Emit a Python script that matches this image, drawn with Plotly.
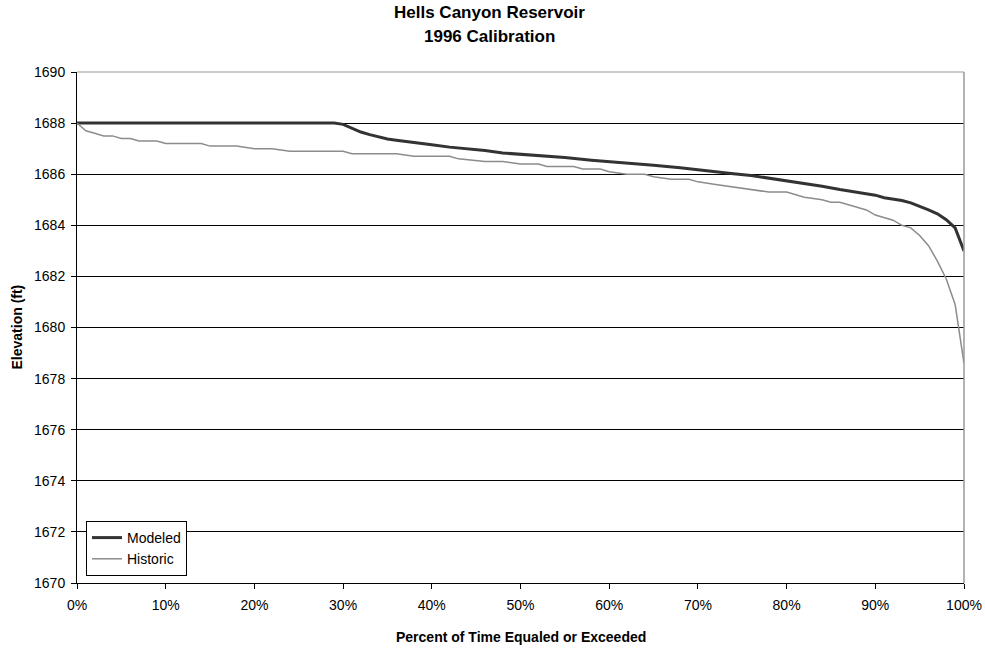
import plotly.graph_objects as go

hist_pct = [0, 1, 2, 3, 4, 5, 6, 7, 8, 9, 10, 12, 14, 15, 18, 20, 22, 24, 28, 30, 31, 36, 38, 42, 43,
            46, 48, 50, 52, 53, 56, 57, 59, 60, 62, 64, 65, 67, 69, 70, 72, 74, 76, 78, 80, 82, 84,
            85, 86, 87, 88, 89, 90, 92, 93, 94, 95, 96, 97, 98, 99, 100]
hist_elev = [1688.0, 1687.7, 1687.6, 1687.5, 1687.5, 1687.4, 1687.4, 1687.3, 1687.3, 1687.3, 1687.2,
             1687.2, 1687.2, 1687.1, 1687.1, 1687.0, 1687.0, 1686.9, 1686.9, 1686.9, 1686.8, 1686.8,
             1686.7, 1686.7, 1686.6, 1686.5, 1686.5, 1686.4, 1686.4, 1686.3, 1686.3, 1686.2, 1686.2,
             1686.1, 1686.0, 1686.0, 1685.9, 1685.8, 1685.8, 1685.7, 1685.6, 1685.5, 1685.4, 1685.3,
             1685.3, 1685.1, 1685.0, 1684.9, 1684.9, 1684.8, 1684.7, 1684.6, 1684.4, 1684.2, 1684.0,
             1683.9, 1683.6, 1683.2, 1682.6, 1681.9, 1680.9, 1678.6]

mod_pct = [0, 5, 10, 15, 20, 25, 29, 30, 31, 32, 33, 34, 35, 36, 38, 40, 42, 44, 46, 48, 50, 52, 55,
           58, 60, 62, 65, 68, 70, 72, 74, 76, 78, 80, 82, 84, 86, 88, 90, 91, 92, 93, 94, 95, 96,
           97, 98, 99, 100]
mod_elev = [1688.0, 1688.0, 1688.0, 1688.0, 1688.0, 1688.0, 1688.0, 1687.95, 1687.8, 1687.65,
            1687.55, 1687.45, 1687.38, 1687.33, 1687.25, 1687.15, 1687.06, 1687.0, 1686.93, 1686.83,
            1686.78, 1686.72, 1686.65, 1686.55, 1686.5, 1686.43, 1686.35, 1686.25, 1686.17, 1686.08,
            1686.02, 1685.95, 1685.85, 1685.75, 1685.65, 1685.53, 1685.4, 1685.28, 1685.18, 1685.08,
            1685.02, 1684.97, 1684.88, 1684.75, 1684.6, 1684.45, 1684.22, 1683.9, 1683.0]

FONT = "Liberation Sans, Arial, sans-serif"
L, R, T, B = 77, 21, 72, 66
W, H = 985, 649
PW, PH = W - L - R, H - T - B


def px_to_paper_y(ypx):
    return (H - B - ypx) / PH


def px_to_paper_x(xpx):
    return (xpx - L) / PW


fig = go.Figure()
fig.add_trace(go.Scatter(x=mod_pct, y=mod_elev, mode="lines", name="Modeled",
                         line=dict(color="#333333", width=3)))
fig.add_trace(go.Scatter(x=hist_pct, y=hist_elev, mode="lines", name="Historic",
                         line=dict(color="#8c8c8c", width=1.5)))

fig.update_layout(
    width=W, height=H,
    margin=dict(l=L, r=R, t=T, b=B),
    paper_bgcolor="white", plot_bgcolor="white",
    font=dict(family=FONT, size=14, color="black"),
    xaxis=dict(range=[0, 100], dtick=10, ticksuffix="%", showgrid=False,
               showline=True, linecolor="black", linewidth=1, automargin=False,
               ticks="outside", ticklen=5, tickcolor="black", zeroline=False,
               ticklabelstandoff=4, tickfont=dict(size=14)),
    yaxis=dict(range=[1670, 1690], dtick=2, showgrid=True, gridcolor="black", gridwidth=1,
               showline=True, linecolor="black", linewidth=1, automargin=False,
               ticks="outside", ticklen=5, tickcolor="black", zeroline=False,
               ticklabelstandoff=3, tickfont=dict(size=14)),
    legend=dict(x=px_to_paper_x(86), y=px_to_paper_y(576), xanchor="left", yanchor="bottom",
                bordercolor="black", borderwidth=1, bgcolor="white",
                font=dict(family=FONT, size=14), tracegroupgap=0, itemwidth=30),
    showlegend=True,
)

# chart title (two lines)
fig.add_annotation(text="<b>Hells Canyon Reservoir</b>", xref="paper", yref="paper",
                   x=px_to_paper_x(489), y=px_to_paper_y(12.5), xanchor="center", yanchor="middle",
                   showarrow=False, font=dict(family=FONT, size=17))
fig.add_annotation(text="<b>1996 Calibration</b>", xref="paper", yref="paper",
                   x=px_to_paper_x(489), y=px_to_paper_y(37), xanchor="center", yanchor="middle",
                   showarrow=False, font=dict(family=FONT, size=17))
# axis titles
fig.add_annotation(text="<b>Percent of Time Equaled or Exceeded</b>", xref="paper", yref="paper",
                   x=0.5, y=px_to_paper_y(637), xanchor="center", yanchor="middle",
                   showarrow=False, font=dict(family=FONT, size=14))
fig.add_annotation(text="<b>Elevation (ft)</b>", xref="paper", yref="paper",
                   x=px_to_paper_x(16), y=0.5, xanchor="center", yanchor="middle",
                   textangle=-90, showarrow=False, font=dict(family=FONT, size=14))

# gray plot-area border on top and right
fig.add_shape(type="line", xref="paper", yref="paper", x0=0, x1=1, y0=1, y1=1,
              line=dict(color="#999999", width=1.2))
fig.add_shape(type="line", xref="paper", yref="paper", x0=1, x1=1, y0=0, y1=1,
              line=dict(color="#999999", width=1.5))

fig.write_html("out.html", config={"displayModeBar": False},
               post_script="document.body.style.margin='0';")
